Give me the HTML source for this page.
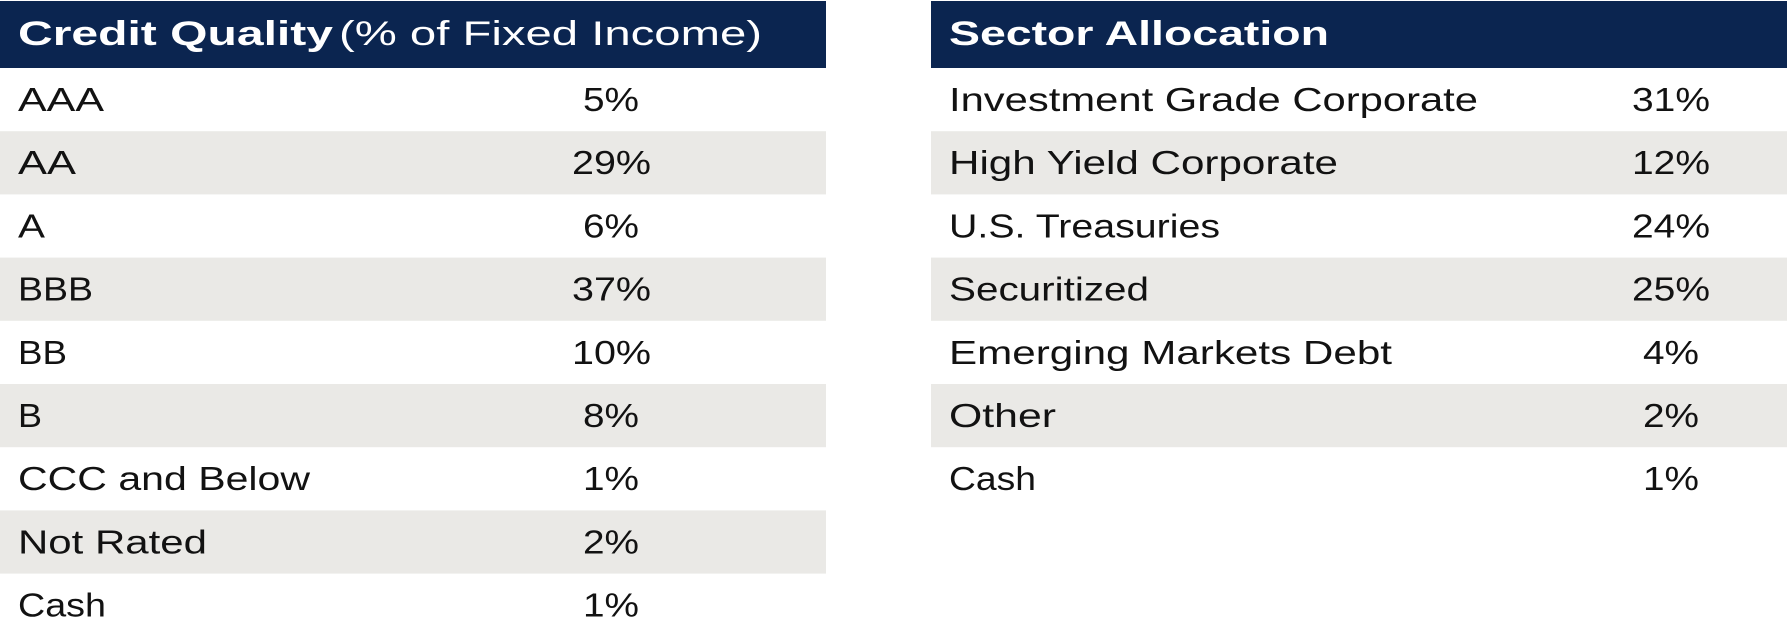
<!DOCTYPE html>
<html>
<head>
<meta charset="utf-8">
<style>
  html, body { margin: 0; padding: 0; background: #ffffff; }
  body { width: 1787px; height: 644px; overflow: hidden; }
  svg { display: block; }
  .t { font-family: "Liberation Sans", Arial, sans-serif; font-size: 33.5px; fill: #121212; }
  .h { font-family: "Liberation Sans", Arial, sans-serif; font-size: 34px; fill: #ffffff; }
</style>
</head>
<body>
<svg width="1787" height="644" viewBox="0 0 1787 644" xmlns="http://www.w3.org/2000/svg">
  <rect x="0" y="0" width="1787" height="644" fill="#ffffff"/>

  <!-- Left table -->
  <rect x="0" y="1" width="826" height="67" fill="#0b2550"/>
  <rect x="0" y="131.2" width="826" height="63.2" fill="#eae9e6"/>
  <rect x="0" y="257.6" width="826" height="63.2" fill="#eae9e6"/>
  <rect x="0" y="384" width="826" height="63.2" fill="#eae9e6"/>
  <rect x="0" y="510.4" width="826" height="63.2" fill="#eae9e6"/>

  <text class="h" x="18" y="45" font-weight="bold" textLength="315" lengthAdjust="spacingAndGlyphs">Credit Quality</text>
  <text class="h" x="339" y="45" textLength="423" lengthAdjust="spacingAndGlyphs">(% of Fixed Income)</text>

  <text class="t" x="18" y="111" textLength="86" lengthAdjust="spacingAndGlyphs">AAA</text>
  <text class="t" x="18" y="174.2" textLength="58" lengthAdjust="spacingAndGlyphs">AA</text>
  <text class="t" x="18" y="237.4" textLength="27" lengthAdjust="spacingAndGlyphs">A</text>
  <text class="t" x="18" y="300.6" textLength="75" lengthAdjust="spacingAndGlyphs">BBB</text>
  <text class="t" x="18" y="363.8" textLength="49" lengthAdjust="spacingAndGlyphs">BB</text>
  <text class="t" x="18" y="427" textLength="24" lengthAdjust="spacingAndGlyphs">B</text>
  <text class="t" x="18" y="490.2" textLength="292" lengthAdjust="spacingAndGlyphs">CCC and Below</text>
  <text class="t" x="18" y="553.4" textLength="189" lengthAdjust="spacingAndGlyphs">Not Rated</text>
  <text class="t" x="18" y="616.6" textLength="88" lengthAdjust="spacingAndGlyphs">Cash</text>

  <text class="t" x="583" y="111" textLength="56" lengthAdjust="spacingAndGlyphs">5%</text>
  <text class="t" x="572" y="174.2" textLength="79" lengthAdjust="spacingAndGlyphs">29%</text>
  <text class="t" x="583" y="237.4" textLength="56" lengthAdjust="spacingAndGlyphs">6%</text>
  <text class="t" x="572" y="300.6" textLength="79" lengthAdjust="spacingAndGlyphs">37%</text>
  <text class="t" x="572" y="363.8" textLength="79" lengthAdjust="spacingAndGlyphs">10%</text>
  <text class="t" x="583" y="427" textLength="56" lengthAdjust="spacingAndGlyphs">8%</text>
  <text class="t" x="583" y="490.2" textLength="56" lengthAdjust="spacingAndGlyphs">1%</text>
  <text class="t" x="583" y="553.4" textLength="56" lengthAdjust="spacingAndGlyphs">2%</text>
  <text class="t" x="583" y="616.6" textLength="56" lengthAdjust="spacingAndGlyphs">1%</text>

  <!-- Right table -->
  <rect x="931" y="1" width="856" height="67" fill="#0b2550"/>
  <rect x="931" y="131.2" width="856" height="63.2" fill="#eae9e6"/>
  <rect x="931" y="257.6" width="856" height="63.2" fill="#eae9e6"/>
  <rect x="931" y="384" width="856" height="63.2" fill="#eae9e6"/>

  <text class="h" x="949" y="45" font-weight="bold" textLength="380" lengthAdjust="spacingAndGlyphs">Sector Allocation</text>

  <text class="t" x="949" y="111" textLength="529" lengthAdjust="spacingAndGlyphs">Investment Grade Corporate</text>
  <text class="t" x="949" y="174.2" textLength="389" lengthAdjust="spacingAndGlyphs">High Yield Corporate</text>
  <text class="t" x="949" y="237.4" textLength="271" lengthAdjust="spacingAndGlyphs">U.S. Treasuries</text>
  <text class="t" x="949" y="300.6" textLength="200" lengthAdjust="spacingAndGlyphs">Securitized</text>
  <text class="t" x="949" y="363.8" textLength="443" lengthAdjust="spacingAndGlyphs">Emerging Markets Debt</text>
  <text class="t" x="949" y="427" textLength="107" lengthAdjust="spacingAndGlyphs">Other</text>
  <text class="t" x="949" y="490.2" textLength="87" lengthAdjust="spacingAndGlyphs">Cash</text>

  <text class="t" x="1632" y="111" textLength="78" lengthAdjust="spacingAndGlyphs">31%</text>
  <text class="t" x="1632" y="174.2" textLength="78" lengthAdjust="spacingAndGlyphs">12%</text>
  <text class="t" x="1632" y="237.4" textLength="78" lengthAdjust="spacingAndGlyphs">24%</text>
  <text class="t" x="1632" y="300.6" textLength="78" lengthAdjust="spacingAndGlyphs">25%</text>
  <text class="t" x="1643" y="363.8" textLength="56" lengthAdjust="spacingAndGlyphs">4%</text>
  <text class="t" x="1643" y="427" textLength="56" lengthAdjust="spacingAndGlyphs">2%</text>
  <text class="t" x="1643" y="490.2" textLength="56" lengthAdjust="spacingAndGlyphs">1%</text>
</svg>
</body>
</html>
